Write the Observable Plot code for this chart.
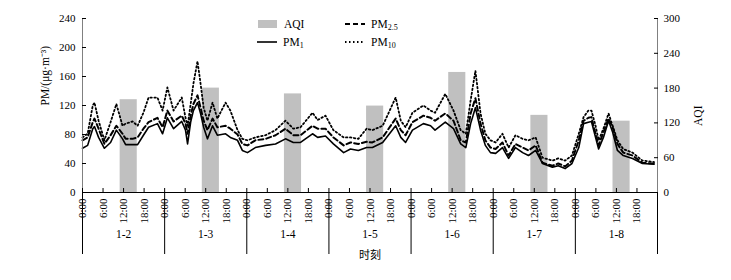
<!DOCTYPE html>
<html><head><meta charset="utf-8">
<script src="https://cdn.jsdelivr.net/npm/d3@7"></script>
<script src="https://cdn.jsdelivr.net/npm/@observablehq/plot@0.6"></script>
<style>
body{margin:0;background:#fff;}
#wrap{position:relative;width:731px;height:280px;font-family:"Liberation Serif","Times New Roman",serif;color:#000;}
.lg{position:absolute;display:flex;align-items:center;font-size:11.5px;line-height:12px;height:12px;}
.lg svg{margin-right:6px;}
.lg sub{font-size:8px;vertical-align:-2px;line-height:0;}
</style></head><body><div id="wrap"></div>
<script>
const hours=[0,1.5,3,3.5,4.7,6.4,8.2,9.9,11.7,12.6,14.6,16.1,17.8,19.3,21.9,23.4,24.8,26.6,29,30.1,30.7,31.6,32.4,33.6,34.5,35.4,36.5,38,39.4,41.8,43.2,45.3,46.7,48.2,50.5,53.5,56.4,59.3,61.6,63.7,67.2,68.7,71,73.3,76.3,78.3,80.6,83,84.7,87.7,91.5,93,94.4,96.4,99.6,101.7,103,106,108.4,110.5,112,113.4,114.8,116.3,117.7,119.2,120.7,122.7,124.5,126.5,128.6,130.3,132.4,134.4,137.3,139,141,143,145,146.4,147.8,148.7,149.9,150.8,152.2,153.7,154.9,156.3,158,160.7,163.6,167];
const pm1=[61,65,88,91,76,61,69,86,74,66,66,66,79,90,95,81,103,88,98,86,67,97,113,124,109,90,74,92,79,81,76,72,58,55,62,65,67,74,69,69,81,76,78,67,55,60,58,62,62,69,92,76,69,86,95,92,86,97,88,67,62,95,117,86,65,55,54,62,47,62,55,51,58,40,35,37,33,40,62,95,97,98,76,60,76,99,83,58,51,47,40,39];
const pm25=[72,76,97,102,88,67,79,92,81,74,74,76,88,97,103,90,113,98,106,95,81,106,122,134,117,99,86,102,90,92,88,80,67,65,72,74,79,88,79,79,92,88,88,76,65,69,67,70,69,76,102,86,79,97,106,103,99,109,99,72,69,109,130,95,72,62,60,69,51,67,62,58,65,41,37,40,36,44,72,99,103,104,81,65,83,102,90,67,55,51,41,40];
const pm10=[76,81,120,124,99,72,97,122,92,95,98,92,110,131,131,113,145,113,131,103,92,122,150,181,150,117,99,124,102,124,113,86,74,72,76,79,86,99,88,90,110,100,106,86,76,76,74,88,86,92,131,99,90,110,120,113,110,136,113,86,81,127,168,109,81,72,69,81,62,79,74,72,76,48,44,47,44,51,81,104,113,113,92,72,88,109,92,72,60,55,44,42];
const days=["1-2","1-3","1-4","1-5","1-6","1-7","1-8"];
const aqi=[160,180,170,149,207,133,123];
const pmTicks=[0,40,80,120,160,200,240];
const aqiTicks=[0,60,120,180,240,300];
const hourLabels=["0:00","6:00","12:00","18:00"];

const k=240/300;
const hourTicks=d3.range(0,168,6);
const dayStarts=d3.range(0,169,24);
const rows=hours.map((h,i)=>({h,pm1:pm1[i],pm25:pm25[i],pm10:pm10[i]}));
const bars=days.map((d,i)=>({day:d,i,aqi:aqi[i]}));

const chart=Plot.plot({
  width:731,height:280,marginLeft:82,marginRight:74,marginTop:18,marginBottom:88,
  style:{fontFamily:"Liberation Serif, Times New Roman, serif",fontSize:"11px",color:"#000",background:"#fff"},
  x:{domain:[0,168]},
  y:{domain:[0,240]},
  marks:[
    Plot.rectY(bars,{x1:d=>d.i*24+11,x2:d=>d.i*24+16,y1:0,y2:d=>d.aqi*k,fill:"#c0c0c0"}),
    Plot.line(rows,{x:"h",y:"pm10",stroke:"#000",strokeWidth:1.8,strokeDasharray:"1.5,2.5"}),
    Plot.line(rows,{x:"h",y:"pm25",stroke:"#000",strokeWidth:2,strokeDasharray:"5,3"}),
    Plot.line(rows,{x:"h",y:"pm1",stroke:"#000",strokeWidth:1.6}),
    Plot.ruleY([0],{stroke:"#000"}),
    Plot.ruleX([0,168],{stroke:"#808080"}),
    Plot.axisY({ticks:pmTicks,tickSize:0,tickPadding:7,label:null,fontSize:11}),
    Plot.axisY({ticks:pmTicks,tickSize:-4,tickFormat:()=>"",label:null}),
    Plot.axisY({anchor:"right",ticks:aqiTicks.map(v=>v*k),tickFormat:d=>String(Math.round(d/k)),tickSize:0,tickPadding:6,label:null,fontSize:11}),
    Plot.axisY({anchor:"right",ticks:aqiTicks.map(v=>v*k),tickSize:-4,tickFormat:()=>"",label:null}),
    Plot.axisX({ticks:hourTicks,tickFormat:d=>hourLabels[(d%24)/6],tickRotate:-90,tickSize:0,tickPadding:6,label:null,fontSize:11}),
    Plot.axisX({ticks:hourTicks,tickSize:-4,tickFormat:()=>"",label:null}),
    Plot.axisX({ticks:dayStarts,tickSize:62,tickFormat:()=>"",label:null}),
    Plot.text(days,{x:(d,i)=>i*24+12,frameAnchor:"bottom",dy:45,text:d=>d,fontSize:11.5}),
    Plot.text(["时刻"],{frameAnchor:"bottom",dy:66,text:d=>d,fontFamily:"Noto Sans CJK SC",fontSize:11}),
    Plot.text(["PM/(μg·m⁻³)"],{frameAnchor:"left",dx:-37,rotate:-90,text:d=>d,fontSize:11.5}),
    Plot.text(["AQI"],{frameAnchor:"right",dx:41,rotate:-90,text:d=>d,fontSize:11.5})
  ]
});
const wrap=document.getElementById("wrap");
wrap.appendChild(chart);

const legend=[
  {html:"AQI",left:258,top:18,sw:'<rect x="0" y="1" width="19" height="8" fill="#c0c0c0"/>'},
  {html:"PM<sub>1</sub>",left:257,top:36,sw:'<line x1="0" y1="5" x2="20" y2="5" stroke="#000" stroke-width="1.6"/>'},
  {html:"PM<sub>2.5</sub>",left:345,top:18,sw:'<line x1="0" y1="5" x2="20" y2="5" stroke="#000" stroke-width="2" stroke-dasharray="5,3"/>'},
  {html:"PM<sub>10</sub>",left:345,top:36,sw:'<line x1="0" y1="5" x2="20" y2="5" stroke="#000" stroke-width="1.8" stroke-dasharray="1.5,2.5"/>'}
];
legend.forEach(l=>{
  const d=document.createElement("div");
  d.className="lg";
  d.style.left=l.left+"px";d.style.top=l.top+"px";
  d.innerHTML='<svg width="20" height="10">'+l.sw+'</svg><span>'+l.html+'</span>';
  wrap.appendChild(d);
});
</script></body></html>
